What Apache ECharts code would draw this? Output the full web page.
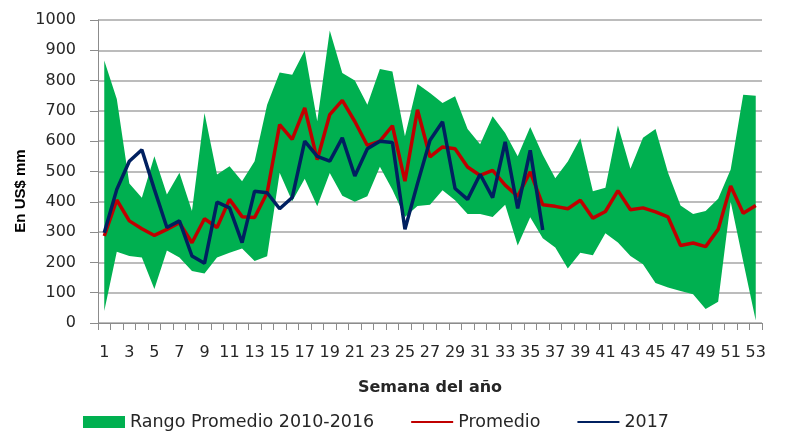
<!DOCTYPE html>
<html>
<head>
<meta charset="utf-8">
<script src="https://cdn.jsdelivr.net/npm/echarts@6/dist/echarts.min.js"></script>
<style>
html,body{margin:0;padding:0;background:#fff;}
#chart{width:786px;height:434px;}
</style>
</head>
<body>
<div id="chart"></div>
<script>
var weeks = [];
for (var i = 1; i <= 53; i++) weeks.push(String(i));

var rangeLow = [40,235,221,216,112,239,216,172,163,216,232,246,205,220,496,402,476,385,495,420,400,418,516,440,350,386,390,438,405,360,360,350,390,256,349,280,249,180,232,224,296,266,221,194,132,117,106,95,46,70,400,203,8];
var rangeHigh = [866,739,460,413,550,424,496,370,693,490,517,468,534,720,827,819,899,666,965,825,800,720,838,830,616,789,759,726,748,640,590,682,627,550,647,555,478,533,610,435,446,652,509,611,640,496,388,360,370,410,507,753,750];
var promedio = [287,406,337,311,289,309,331,265,344,315,408,351,348,430,655,606,710,539,688,735,665,586,600,651,468,704,548,581,575,515,487,504,455,418,499,390,385,377,405,346,368,437,374,380,367,350,256,264,252,309,452,362,388];
var y2017 = [298,441,534,572,441,315,337,221,197,399,380,265,435,430,377,414,600,550,534,611,485,575,600,596,309,460,603,664,444,408,491,414,598,378,570,307];

var yTicks = {min:0, max:1000, interval:100};

var bandSpan = rangeHigh.map(function(v, i){ return v - rangeLow[i]; });

var chart = echarts.init(document.getElementById('chart'), null, {renderer:'canvas'});
var labelFont = 'DejaVu Sans';
chart.setOption({
  animation:false,
  backgroundColor:'#ffffff',
  grid:{left:98, right:24, top:20, bottom:111, containLabel:false},
  legend:{
    left:83, top:413, padding:0, itemWidth:42, itemHeight:12, itemGap:36,
    textStyle:{fontFamily:labelFont, fontSize:17.5, color:'#262626'},
    data:[
      {name:'Rango Promedio 2010-2016', icon:'rect'},
      {name:'Promedio', itemStyle:{opacity:0}},
      {name:'2017', itemStyle:{opacity:0}}
    ]
  },
  xAxis:{
    type:'category', data:weeks, boundaryGap:true,
    name:'Semana del año', nameLocation:'middle', nameGap:57,
    nameTextStyle:{fontFamily:labelFont, fontWeight:'bold', fontSize:16, color:'#262626'},
    axisLine:{lineStyle:{color:'#8c8c8c', width:1}},
    axisTick:{show:true, interval:0, length:7, lineStyle:{color:'#8c8c8c'}},
    axisLabel:{interval:1, margin:22, fontFamily:labelFont, fontSize:16, color:'#262626'},
    splitLine:{show:false}
  },
  yAxis:{
    type:'value', min:yTicks.min, max:yTicks.max, interval:yTicks.interval,
    axisLine:{show:true, lineStyle:{color:'#8c8c8c', width:1}},
    axisTick:{show:true, length:8, lineStyle:{color:'#8c8c8c'}},
    axisLabel:{margin:22, fontFamily:labelFont, fontSize:16, color:'#262626',
      formatter:function(v){ return String(v); }},
    splitLine:{show:true, lineStyle:{color:'#a6a6a6', width:1.5}}
  },
  graphic:[{
    type:'text',
    rotation:Math.PI/2,
    x:21, y:191,
    style:{text:'En US$ mm', fontFamily:'Liberation Sans', fontWeight:'bold', fontSize:15, fill:'#000', textAlign:'center', textVerticalAlign:'middle'}
  }],
  series:[
    {name:'low', type:'line', stack:'band', data:rangeLow, symbol:'none', silent:true,
     lineStyle:{opacity:0, width:0}, areaStyle:{opacity:0}, z:1},
    {name:'Rango Promedio 2010-2016', type:'line', stack:'band', data:bandSpan, symbol:'none',
     itemStyle:{color:'#00B050'},
     lineStyle:{width:0, color:'#00B050'}, areaStyle:{color:'#00B050', opacity:1}, z:2},
    {name:'Promedio', type:'line', data:promedio, symbol:'none',
     itemStyle:{color:'#C00000'}, lineStyle:{color:'#C00000', width:3.5}, z:3},
    {name:'2017', type:'line', data:y2017, symbol:'none',
     itemStyle:{color:'#002060'}, lineStyle:{color:'#002060', width:3.5}, z:4}
  ]
});
</script>
</body>
</html>
